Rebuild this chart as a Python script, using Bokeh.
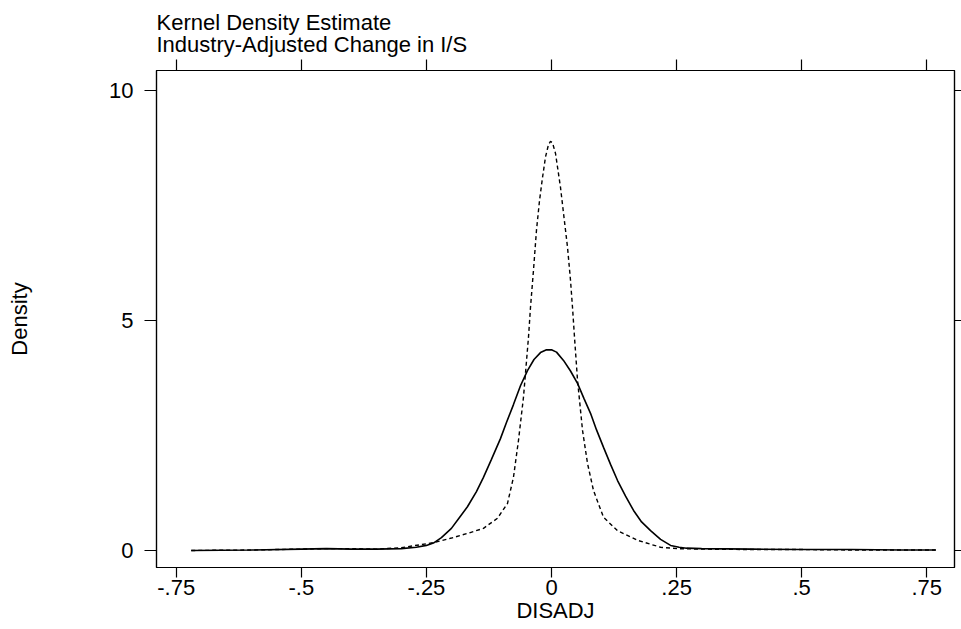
from bokeh.plotting import figure
from bokeh.models import LinearAxis, FixedTicker, Range1d
from bokeh.embed import file_html
from bokeh.resources import INLINE

# ---- data ----
solid_x = [-0.72, -0.60, -0.50, -0.45, -0.40, -0.35, -0.30, -0.27, -0.25, -0.236,
           -0.22, -0.20, -0.185, -0.168, -0.15, -0.136, -0.12, -0.102, -0.09,
           -0.076, -0.062, -0.048, -0.035, -0.022, -0.01, 0.0, 0.010, 0.024,
           0.038, 0.052, 0.065, 0.078, 0.09, 0.104, 0.118, 0.132, 0.148, 0.164,
           0.18, 0.198, 0.218, 0.238, 0.255, 0.27, 0.30, 0.40, 0.50, 0.60, 0.70,
           0.768]
solid_y = [0.00, 0.01, 0.03, 0.04, 0.03, 0.03, 0.04, 0.07, 0.11, 0.16,
           0.28, 0.48, 0.70, 0.95, 1.28, 1.59, 1.98, 2.43, 2.78,
           3.17, 3.58, 3.91, 4.15, 4.30, 4.36, 4.36, 4.31, 4.13,
           3.90, 3.63, 3.30, 2.98, 2.62, 2.24, 1.87, 1.52, 1.18, 0.87,
           0.62, 0.43, 0.24, 0.11, 0.07, 0.05, 0.04, 0.03, 0.02, 0.02, 0.01,
           0.01]

dash_x = [-0.72, -0.60, -0.50, -0.45, -0.40, -0.35, -0.30, -0.236, -0.20, -0.168,
          -0.136, -0.108, -0.088, -0.076, -0.066, -0.056, -0.046, -0.042, -0.036,
          -0.030, -0.024, -0.018, -0.012, -0.006, -0.002, 0.002, 0.008, 0.018,
          0.024, 0.032, 0.038, 0.042, 0.046, 0.052, 0.062, 0.072, 0.084, 0.104,
          0.132, 0.172, 0.218, 0.252, 0.30, 0.40, 0.50, 0.60, 0.70, 0.768]
dash_y = [0.00, 0.01, 0.03, 0.04, 0.04, 0.03, 0.06, 0.17, 0.27, 0.37,
          0.48, 0.70, 1.02, 1.59, 2.39, 3.33, 4.63, 5.28, 6.09,
          6.96, 7.60, 8.10, 8.55, 8.82, 8.89, 8.86, 8.63, 7.89,
          7.33, 6.59, 5.87, 5.28, 4.63, 3.70, 2.61, 1.89, 1.30, 0.72,
          0.43, 0.22, 0.07, 0.04, 0.03, 0.02, 0.02, 0.01, 0.01, 0.01]

x_ticks = [-0.75, -0.5, -0.25, 0, 0.25, 0.5, 0.75]
x_tick_labels = ["-.75", "-.5", "-.25", "0", ".25", ".5", ".75"]
y_ticks = [0, 5, 10]
y_tick_labels = ["0", "5", "10"]

title_text = "Kernel Density Estimate\nIndustry-Adjusted Change in I/S"
x_label = "DISADJ"
y_label = "Density"

FONT = "Liberation Sans"
FS = "22px"

p = figure(width=961, height=629, output_backend="svg", toolbar_location=None,
           x_range=Range1d(-0.7894, 0.8054), y_range=Range1d(-0.37, 10.43),
           min_border_left=156, min_border_right=7, min_border_top=70,
           min_border_bottom=62, x_axis_location=None, y_axis_location=None)

p.background_fill_color = "white"
p.border_fill_color = "white"
p.outline_line_color = "black"
p.outline_line_width = 1.2
p.grid.visible = False

p.title.text = title_text
p.title.text_font = FONT
p.title.text_font_size = FS
p.title.text_font_style = "normal"
p.title.text_color = "black"
p.title.align = "left"
p.title.standoff = 5
p.title.text_line_height = 0.88

def make_axis(ticks, labels, show_labels, tick_out, label_text=None):
    ax = LinearAxis(ticker=FixedTicker(ticks=ticks))
    ax.minor_tick_line_color = None
    ax.major_tick_out = tick_out
    ax.major_tick_in = 0
    ax.major_tick_line_color = "black"
    ax.major_tick_line_width = 1.2
    ax.axis_line_color = "black"
    ax.axis_line_width = 1.2
    ax.major_label_text_font = FONT
    if show_labels:
        ax.major_label_overrides = {t: l for t, l in zip(ticks, labels)}
        ax.major_label_text_font_size = FS
        ax.major_label_text_color = "black"
    else:
        ax.major_label_text_font_size = "0px"
        ax.major_label_text_color = None
        ax.major_label_standoff = 0
    if label_text:
        ax.axis_label = label_text
        ax.axis_label_text_font = FONT
        ax.axis_label_text_font_size = FS
        ax.axis_label_text_font_style = "normal"
        ax.axis_label_text_color = "black"
    return ax

bottom = make_axis(x_ticks, x_tick_labels, True, 10, x_label)
bottom.major_label_standoff = 2
bottom.axis_label_standoff = 0
p.add_layout(bottom, "below")

top = make_axis(x_ticks, x_tick_labels, False, 11)
p.add_layout(top, "above")

left = make_axis(y_ticks, y_tick_labels, True, 12, y_label)
left.major_label_standoff = 11
left.axis_label_standoff = 74
p.add_layout(left, "left")

right = make_axis(y_ticks, y_tick_labels, False, 7)
p.add_layout(right, "right")

p.line(solid_x, solid_y, line_color="black", line_width=1.6)
p.line(dash_x, dash_y, line_color="black", line_width=1.4, line_dash="4 3")

open("out.html", "w").write(file_html(p, INLINE))
